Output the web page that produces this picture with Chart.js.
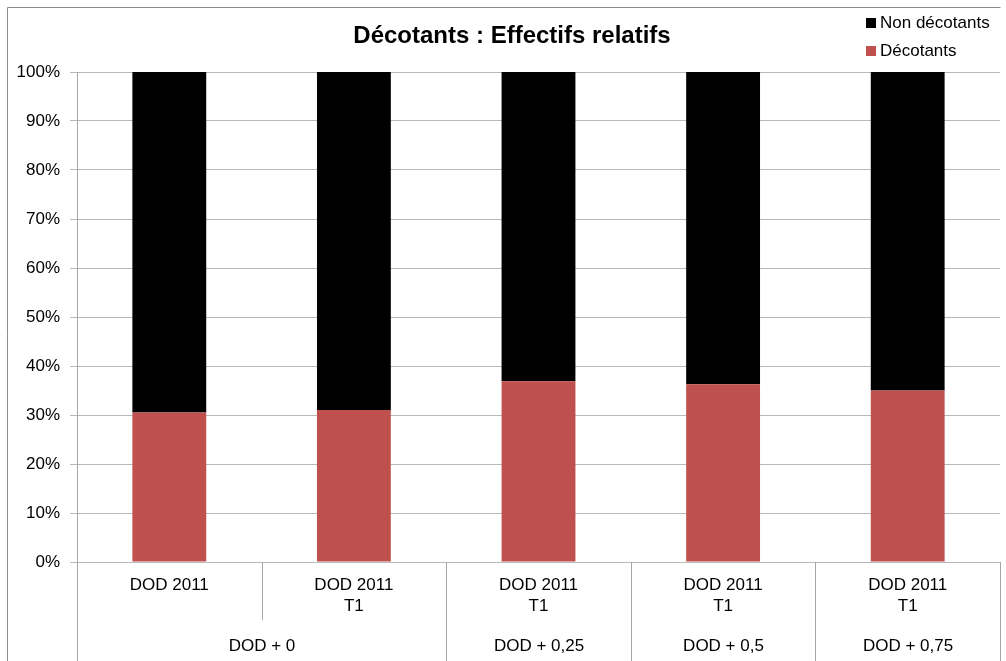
<!DOCTYPE html>
<html>
<head>
<meta charset="utf-8">
<script src="https://cdn.jsdelivr.net/npm/chart.js@4/dist/chart.umd.min.js"></script>
<style>
html,body{margin:0;padding:0;background:#fff;}
#wrap{width:1006px;height:661px;}
</style>
</head>
<body>
<div id="wrap"><canvas id="chart" width="1006" height="661"></canvas></div>
<script>
const categories = [["DOD 2011"], ["DOD 2011", "T1"], ["DOD 2011", "T1"], ["DOD 2011", "T1"], ["DOD 2011", "T1"]];
const groupLabels = ["DOD + 0", "DOD + 0,25", "DOD + 0,5", "DOD + 0,75"];
const groupSpans = [2, 1, 1, 1];
const decotants = [30.5, 31.0, 36.9, 36.3, 35.0];
const nonDecotants = [69.5, 69.0, 63.1, 63.7, 65.0];
const yTicks = [0, 10, 20, 30, 40, 50, 60, 70, 80, 90, 100];
const titleText = "Décotants : Effectifs relatifs";

const FONT = "'Liberation Sans', Arial, sans-serif";
const LINE = "#A6A6A6";
const GRID = "#B8B8B8";

// frame, title, legend, category separators and group labels
const axisDeco = {
id: "axisDeco",
beforeDraw(chart){
const c = chart.ctx;
c.save();
c.strokeStyle = "#8C8C8C";
c.lineWidth = 1;
c.beginPath();
c.moveTo(7.5, chart.height);
c.lineTo(7.5, 7.5);
c.lineTo(1000.5, 7.5);
c.stroke();
c.restore();
},
afterDraw(chart){
const c = chart.ctx;
const area = chart.chartArea;
const step = (area.right - area.left) / categories.length;
const edge = i => Math.round(area.left + i * step) + 0.5;

c.save();
c.fillStyle = "#000";
c.font = "bold 24px " + FONT;
c.textAlign = "center";
c.textBaseline = "alphabetic";
c.fillText(titleText, 512, 43);

c.strokeStyle = LINE;
c.lineWidth = 1;
const starts = [0];
groupSpans.forEach(s => starts.push(starts[starts.length - 1] + s));
for (let i = 0; i <= categories.length; i++) {
const full = starts.includes(i);
c.beginPath();
c.moveTo(edge(i), area.bottom);
c.lineTo(edge(i), full ? chart.height : area.bottom + 58);
c.stroke();
}

c.font = "17px " + FONT;
c.textBaseline = "middle";
groupLabels.forEach((lab, g) => {
const mid = (edge(starts[g]) + edge(starts[g + 1])) / 2;
c.fillText(lab, mid, area.bottom + 84);
});

// legend, top series first
const sets = chart.data.datasets.slice().reverse();
c.textAlign = "left";
sets.forEach((ds, k) => {
const yy = 23 + k * 28;
c.fillStyle = ds.backgroundColor;
c.fillRect(866, yy - 5, 10, 10);
c.fillStyle = "#000";
c.fillText(ds.label, 880, yy);
});
c.restore();
}
};

new Chart(document.getElementById("chart"), {
type: "bar",
data: {
labels: categories,
datasets: [
{label: "Décotants", data: decotants, backgroundColor: "#C0504D"},
{label: "Non décotants", data: nonDecotants, backgroundColor: "#000000"}
]
},
options: {
responsive: false,
animation: false,
layout: {padding: {left: 0, right: 6, top: 72, bottom: 0}},
datasets: {bar: {barPercentage: 0.4, categoryPercentage: 1}},
plugins: {
legend: {display: false},
tooltip: {enabled: false},
title: {display: false}
},
scales: {
x: {
stacked: true,
grid: {display: false, drawTicks: false},
border: {display: false},
ticks: {color: "#000", font: {family: FONT, size: 17, lineHeight: 1.24}, padding: 13, maxRotation: 0, autoSkip: false},
afterFit(s){ s.height = 99; }
},
y: {
stacked: true,
min: 0,
max: 100,
afterBuildTicks(s){ s.ticks = yTicks.map(v => ({value: v})); },
grid: {color: GRID, tickLength: 7},
border: {display: true, color: LINE},
ticks: {color: "#000", font: {family: FONT, size: 17}, padding: 10, callback: v => v + "%"},
afterFit(s){ s.width = 77; }
}
}
},
plugins: [axisDeco]
});
</script>
</body>
</html>
